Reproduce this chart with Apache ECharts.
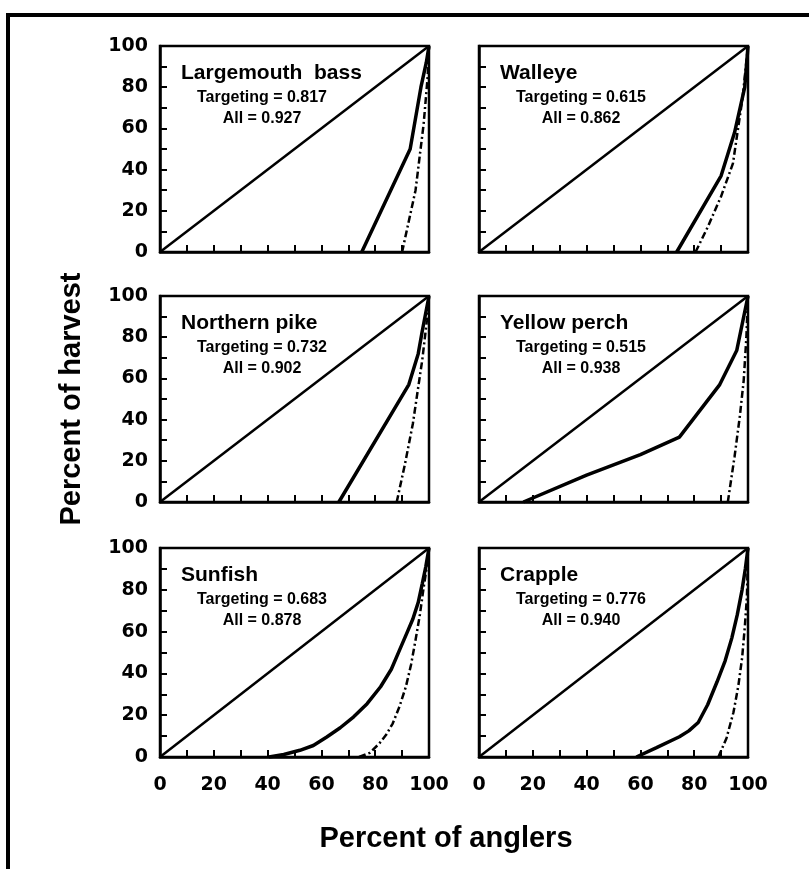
<!DOCTYPE html>
<html><head><meta charset="utf-8">
<script src="https://cdn.jsdelivr.net/npm/echarts@6/dist/echarts.min.js"></script>
<style>html,body{margin:0;padding:0;background:#fff}#c{width:809px;height:869px}</style>
</head><body><div id="c"></div>
<script>
// ---- data ----
const species = ['Largemouth  bass', 'Walleye', 'Northern pike', 'Yellow perch', 'Sunfish', 'Crapple'];
const targetingGini = ['0.817', '0.615', '0.732', '0.515', '0.683', '0.776'];
const allGini = ['0.927', '0.862', '0.902', '0.938', '0.878', '0.940'];
const equality = [[0, 0], [100, 100]];
const targetingCurves = [
  [[75, 0], [93, 50], [97, 80], [99, 92], [100, 100]],
  [[73.5, 0], [90, 37], [95, 58], [98.8, 80], [100, 100]],
  [[66.5, 0], [92.5, 57], [96, 72], [97.5, 83], [100, 100]],
  [[16.5, 0], [40, 13], [60, 23], [74.5, 31.5], [89.5, 57], [95.8, 73.5], [100, 100]],
  [[40.5, 0], [46, 1.2], [52, 3.2], [57, 5.5], [62, 9.6], [67, 14], [72, 19.2], [77, 25.5], [82, 33.6], [86, 42], [89, 51], [92, 60], [94, 66], [96, 74], [97.5, 83], [98.8, 91], [100, 100]],
  [[58.5, 0], [66, 4.5], [74.5, 9.7], [78, 12.5], [81.5, 16.5], [85, 25], [88.5, 36], [91.5, 46], [94, 57], [96, 68], [97.8, 80], [99, 90], [100, 100]]
];
const allCurves = [
  [[90, 0], [92, 12], [95, 30], [98, 62], [99.5, 85], [100, 100]],
  [[80.5, 0], [85, 12], [90, 27], [94.4, 43], [98, 75], [100, 100]],
  [[88, 0], [91, 18], [94, 38], [97.5, 69], [99.2, 88], [100, 100]],
  [[92.5, 0], [95, 22], [97, 42], [98.4, 59], [99.4, 80], [100, 100]],
  [[74, 0], [78, 2], [81.5, 6.4], [84, 10.5], [86.5, 16], [89, 24], [91.4, 33.6], [93.3, 44], [95, 56], [96.6, 68], [98, 81], [99.2, 91], [100, 100]],
  [[89, 0], [92, 9], [94.6, 21.4], [96.4, 34], [97.8, 47.3], [98.8, 62], [99.6, 76.5], [100, 100]]
];
const axisTicks = [0, 20, 40, 60, 80, 100];

// ---- layout ----
const colLeft = [160, 479];
const colWidth = 269;
const rowTop = [46, 296, 548];
const rowHeight = [206, 206, 209];
const FONT = '"Liberation Sans", Arial, sans-serif';
const TICKFONT = '"DejaVu Sans", sans-serif';

const grids = [], xAxes = [], yAxes = [], series = [], graphics = [];
for (let i = 0; i < 6; i++) {
  const r = Math.floor(i / 2), c = i % 2;
  const L = colLeft[c], T = rowTop[r], H = rowHeight[r];
  grids.push({left: L, top: T, width: colWidth, height: H, show: true,
    borderColor: '#000', borderWidth: 2.5, backgroundColor: 'transparent', containLabel: false});
  const tickFmt = v => (axisTicks.indexOf(v) >= 0 ? String(v) : '');
  xAxes.push({type: 'value', gridIndex: i, min: 0, max: 100, interval: 10,
    axisLine: {show: true, lineStyle: {color: '#000', width: 2.5}},
    axisTick: {show: true, inside: true, length: 7, lineStyle: {color: '#000', width: 2}},
    splitLine: {show: false},
    axisLabel: {show: r === 2, margin: 19, formatter: tickFmt, color: '#000',
      fontFamily: TICKFONT, fontWeight: 'bold', fontSize: 19, showMinLabel: true, showMaxLabel: true}
  });
  const ya = {type: 'value', gridIndex: i, min: 0, max: 100, interval: 10,
    axisLine: {show: true, lineStyle: {color: '#000', width: 2.5}},
    axisTick: {show: true, inside: true, length: 7, lineStyle: {color: '#000', width: 2}},
    splitLine: {show: false},
    axisLabel: {show: c === 0, margin: 12, formatter: tickFmt, color: '#000',
      fontFamily: TICKFONT, fontWeight: 'bold', fontSize: 19, showMinLabel: true, showMaxLabel: true}
  };
  if (i === 2) {
    ya.name = 'Percent of harvest';
    ya.nameLocation = 'middle';
    ya.nameGap = 74;
    ya.nameTextStyle = {color: '#000', fontFamily: FONT, fontWeight: 'bold', fontSize: 29};
  }
  yAxes.push(ya);
  series.push({type: 'line', xAxisIndex: i, yAxisIndex: i, data: equality, symbol: 'none',
    lineStyle: {color: '#000', width: 2.5}, silent: true, z: 3});
  series.push({type: 'line', xAxisIndex: i, yAxisIndex: i, data: targetingCurves[i], symbol: 'none',
    lineStyle: {color: '#000', width: 3.5}, silent: true, z: 4});
  series.push({type: 'line', xAxisIndex: i, yAxisIndex: i, data: allCurves[i], symbol: 'none',
    lineStyle: {color: '#000', width: 2.5, type: [7, 3, 2, 3]}, silent: true, z: 4});

  graphics.push({type: 'text', x: L + 21, y: T + 27, z: 10,
    style: {text: species[i], fill: '#000', font: 'bold 21px ' + FONT, align: 'left', verticalAlign: 'middle', textAlign: 'left', textVerticalAlign: 'middle'}});
  graphics.push({type: 'text', x: L + 102, y: T + 52, z: 10,
    style: {text: 'Targeting = ' + targetingGini[i], fill: '#000', font: 'bold 16px ' + FONT, align: 'center', verticalAlign: 'middle', textAlign: 'center', textVerticalAlign: 'middle'}});
  graphics.push({type: 'text', x: L + 102, y: T + 73, z: 10,
    style: {text: 'All = ' + allGini[i], fill: '#000', font: 'bold 16px ' + FONT, align: 'center', verticalAlign: 'middle', textAlign: 'center', textVerticalAlign: 'middle'}});
}
graphics.push({type: 'text', x: 446, y: 839, z: 10,
  style: {text: 'Percent of anglers', fill: '#000', font: 'bold 29px ' + FONT, align: 'center', verticalAlign: 'middle', textAlign: 'center', textVerticalAlign: 'middle'}});
graphics.push({type: 'polyline', z: 10, shape: {points: [[8, 875], [8, 15], [815, 15]]},
  style: {stroke: '#000', lineWidth: 4, fill: null}});

const chart = echarts.init(document.getElementById('c'), null, {renderer: 'canvas'});
chart.setOption({
  animation: false,
  backgroundColor: '#fff',
  grid: grids, xAxis: xAxes, yAxis: yAxes, series: series, graphic: graphics
});
</script></body></html>
